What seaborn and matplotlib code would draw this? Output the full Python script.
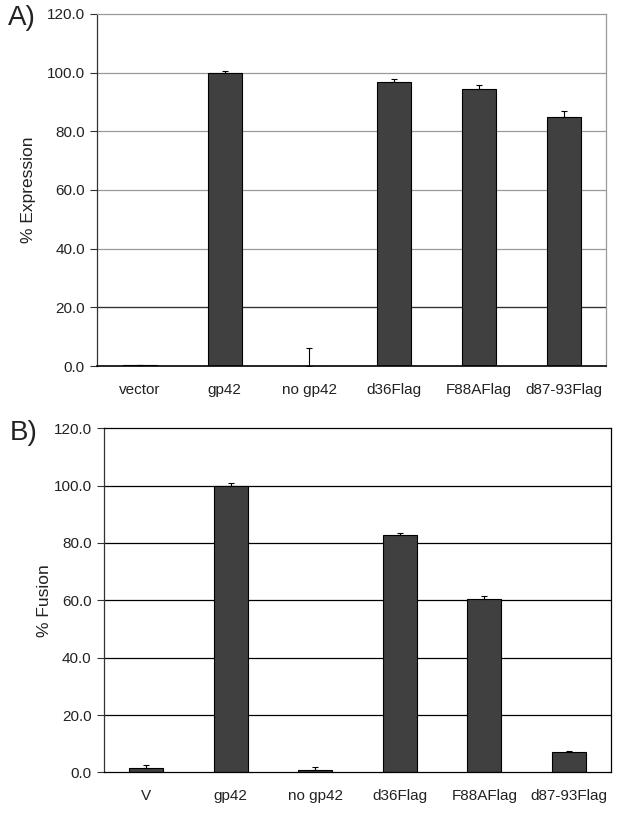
import numpy as np
import pandas as pd
import matplotlib
matplotlib.use("Agg")
import matplotlib.pyplot as plt
import seaborn as sns

sns.set_style("white")
plt.rcParams["font.family"] = ["Liberation Sans", "DejaVu Sans"]

# panel A: surface expression
expr_labels = ["vector", "gp42", "no gp42", "d36Flag", "F88AFlag", "d87-93Flag"]
expr_vals = [0.3, 100.0, 0.0, 96.7, 94.3, 85.0]
expr_err = [0.0, 0.4, 6.0, 1.3, 1.6, 1.9]

# panel B: fusion
fus_labels = ["V", "gp42", "no gp42", "d36Flag", "F88AFlag", "d87-93Flag"]
fus_vals = [1.6, 100.0, 0.8, 82.7, 60.3, 7.1]
fus_err = [0.9, 1.0, 0.9, 0.9, 1.3, 0.3]

yticks = [0, 20, 40, 60, 80, 100, 120]
BAR = "#404040"

fig = plt.figure(figsize=(6.21, 8.13), dpi=100)
axA = fig.add_axes([0.157, 0.5498, 0.819, 0.433])
axB = fig.add_axes([0.1675, 0.050, 0.8164, 0.4232])


def draw(ax, labels, vals, errs, ylabel, grid_color, frame_color):
    df = pd.DataFrame({"cat": labels, "val": vals})
    sns.barplot(data=df, x="cat", y="val", order=labels, color=BAR, width=0.4,
                edgecolor="black", linewidth=0.8, saturation=1, errorbar=None,
                ax=ax, zorder=3)
    xs = [p.get_x() + p.get_width() / 2 for p in ax.patches]
    ax.errorbar(xs, vals, yerr=[np.zeros(len(errs)), errs], fmt="none",
                ecolor="black", elinewidth=0.8, capsize=2, capthick=0.8, zorder=4)
    ax.set_ylim(0, 120)
    ax.set_xlim(-0.5, len(labels) - 0.5)
    ax.set_yticks(yticks)
    ax.set_yticklabels([f"{t:.1f}" for t in yticks], fontsize=11, color="#222222")
    ax.set_xticks(range(len(labels)))
    ax.set_xticklabels(labels, fontsize=11, color="#222222")
    ax.set_xticks(np.arange(-0.5, len(labels), 1.0), minor=True)
    ax.tick_params(axis="x", which="major", length=0, pad=12)
    ax.tick_params(axis="x", which="minor", length=5, direction="out",
                   color="black", width=0.8)
    ax.tick_params(axis="y", length=5, direction="out", color="#333333",
                   width=0.8, pad=4, left=True)
    ax.set_xlabel("")
    ax.set_ylabel(ylabel, fontsize=12.5, color="#222222")
    for t in yticks[1:-1]:
        ax.axhline(t, color=grid_color, linewidth=0.9, zorder=1)
    for side in ["top", "right"]:
        ax.spines[side].set_visible(True)
        ax.spines[side].set_color(frame_color)
        ax.spines[side].set_linewidth(0.9)
    ax.spines["left"].set_color("#333333")
    ax.spines["left"].set_linewidth(0.9)
    ax.spines["bottom"].set_color("black")
    ax.spines["bottom"].set_linewidth(1.2)
    ax.spines["bottom"].set_zorder(5)


draw(axA, expr_labels, expr_vals, expr_err, "% Expression", "#9a9a9a", "#9a9a9a")
axA.axhline(20, color="#333333", linewidth=0.9, zorder=1)
axA.yaxis.labelpad = 8
draw(axB, fus_labels, fus_vals, fus_err, "% Fusion", "black", "black")
axB.spines["bottom"].set_linewidth(0.9)
axB.yaxis.labelpad = 1

fig.text(0.012, 0.978, "A)", fontsize=20, va="center", ha="left", color="#222222")
fig.text(0.015, 0.467, "B)", fontsize=20, va="center", ha="left", color="#222222")

fig.savefig("out.png", dpi=100)
